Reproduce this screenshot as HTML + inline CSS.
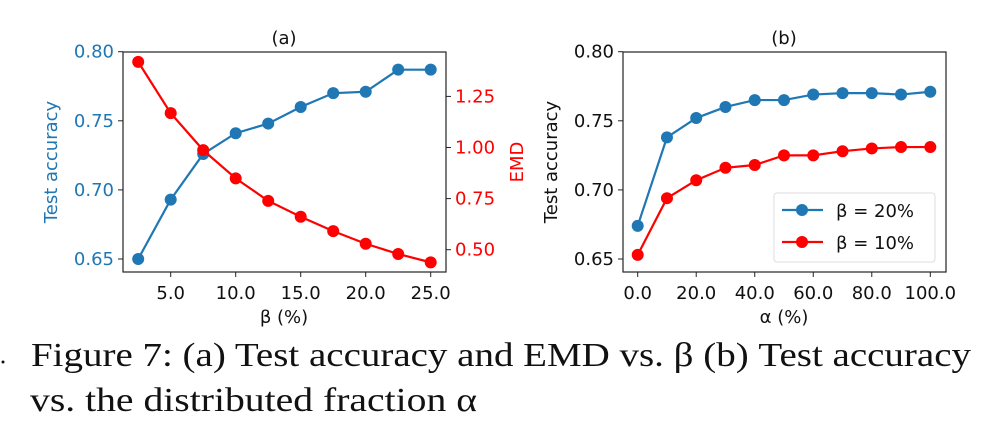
<!DOCTYPE html>
<html><head><meta charset="utf-8"><style>
html,body{margin:0;padding:0;background:#fff;width:992px;height:432px;overflow:hidden}
svg{display:block}
text{font-family:"DejaVu Sans","Liberation Sans",sans-serif}
</style></head><body>
<svg id="svg" width="992" height="432"></svg>
<script>
const betaX=[2.5,5,7.5,10,12.5,15,17.5,20,22.5,25];
const accA=[0.650,0.693,0.726,0.741,0.748,0.760,0.770,0.771,0.787,0.787];
const emdA=[1.419,1.168,0.987,0.849,0.739,0.661,0.591,0.529,0.479,0.438];
const alphaX=[0,10,20,30,40,50,60,70,80,90,100];
const acc20=[0.674,0.738,0.752,0.760,0.765,0.765,0.769,0.770,0.770,0.769,0.771];
const acc10=[0.653,0.694,0.707,0.716,0.718,0.725,0.725,0.728,0.730,0.731,0.731];
const accTicks=[0.65,0.70,0.75,0.80];
const emdTicks=[0.50,0.75,1.00,1.25];
const betaTicks=[5,10,15,20,25];
const alphaTicks=[0,20,40,60,80,100];
const NS="http://www.w3.org/2000/svg";
const svg=document.getElementById('svg');
function el(t,a,p){const e=document.createElementNS(NS,t);for(const k in a)e.setAttribute(k,a[k]);(p||svg).appendChild(e);return e;}
const BLUE="#1f77b4",RED="#ff0000";
const yAcc=v=>259-(v-0.65)/0.15*207.3;
const yEmd=v=>249.7-(v-0.5)/0.25*51.1;
const xB=v=>170.7+(v-5)*13;
const xA=v=>637.7+v*2.926;
function series(xs,ys,fx,fy,col,name){
  const g=el('g',{});
  
  
  el('polyline',{points:xs.map((x,i)=>fx(x)+','+fy(ys[i])).join(' '),fill:'none',stroke:col,'stroke-width':2.2},g);
  xs.forEach((x,i)=>{const c=el('circle',{cx:fx(x),cy:fy(ys[i]),r:6,fill:col},g);
    
    });
}
function frame(x0,x1,name){
  const r=el('rect',{x:x0,y:52,width:x1-x0,height:220,fill:'none',stroke:'#222','stroke-width':1.2});
  
  
}
function txt(x,y,s,a){const t=el('text',Object.assign({x:x,y:y},a||{}));t.textContent=s;return t;}
const FS=18;
// Panel a
frame(123,446,'plot-area-a');
accTicks.forEach(v=>{const y=yAcc(v);el('line',{x1:118,x2:123,y1:y,y2:y,stroke:'#222'});
  const t=txt(114,y+6,v.toFixed(2),{'text-anchor':'end','font-size':FS,fill:BLUE});
  });
emdTicks.forEach(v=>{const y=yEmd(v);el('line',{x1:446,x2:451,y1:y,y2:y,stroke:'#222'});
  const t=txt(455,y+6,v.toFixed(2),{'font-size':FS,fill:RED});
  });
betaTicks.forEach(v=>{const x=xB(v);el('line',{x1:x,x2:x,y1:272,y2:277,stroke:'#222'});
  const t=txt(x,299,v.toFixed(1),{'text-anchor':'middle','font-size':FS,fill:'#111'});
  });
series(betaX,accA,xB,yAcc,BLUE,'accuracy-line-a');
series(betaX,emdA,xB,yEmd,RED,'emd-line');
let t;
t=txt(284,44,'(a)',{'text-anchor':'middle','font-size':FS,fill:'#111'});
t=txt(284,323,'β (%)',{'text-anchor':'middle','font-size':FS,fill:'#111'});
t=txt(0,0,'Test accuracy',{'text-anchor':'middle','font-size':FS,fill:BLUE,transform:'translate(57,162) rotate(-90)'});
t=txt(0,0,'EMD',{'text-anchor':'middle','font-size':FS,fill:RED,transform:'translate(523,162) rotate(-90)'});
// Panel b
frame(623,946,'plot-area-b');
accTicks.forEach(v=>{const y=yAcc(v);el('line',{x1:618,x2:623,y1:y,y2:y,stroke:'#222'});
  const t=txt(614,y+6,v.toFixed(2),{'text-anchor':'end','font-size':FS,fill:'#111'});
  });
alphaTicks.forEach(v=>{const x=xA(v);el('line',{x1:x,x2:x,y1:272,y2:277,stroke:'#222'});
  const t=txt(x,299,v.toFixed(1),{'text-anchor':'middle','font-size':FS,fill:'#111'});
  });
series(alphaX,acc20,xA,yAcc,BLUE,'beta-20-line');
series(alphaX,acc10,xA,yAcc,RED,'beta-10-line');
t=txt(784,44,'(b)',{'text-anchor':'middle','font-size':FS,fill:'#111'});
t=txt(784,323,'α (%)',{'text-anchor':'middle','font-size':FS,fill:'#111'});
t=txt(0,0,'Test accuracy',{'text-anchor':'middle','font-size':FS,fill:'#111',transform:'translate(557,162) rotate(-90)'});
// legend
const lg=el('g',{});


el('rect',{x:774,y:193,width:161,height:69,rx:3,fill:'#fff',stroke:'#ddd'},lg);
[[BLUE,'β = 20%',210],[RED,'β = 10%',242]].forEach(([c,s,y])=>{
  el('line',{x1:782,x2:823,y1:y,y2:y,stroke:c,'stroke-width':2.2},lg);
  el('circle',{cx:802,cy:y,r:6,fill:c},lg);
  const tt=txt(836,y+7,s,{'font-size':FS,fill:'#111'});lg.appendChild(tt);
  
});
// caption
el('circle',{cx:3,cy:362,r:1.5,fill:'#111'});
const capStyle='font-family:"Liberation Serif",serif;font-size:34px;fill:#111';
t=txt(31,366,'Figure 7: (a) Test accuracy and EMD vs. β (b) Test accuracy',{style:capStyle,textLength:940,lengthAdjust:'spacingAndGlyphs'});
t=txt(30,411,'vs. the distributed fraction α',{style:capStyle,textLength:447,lengthAdjust:'spacingAndGlyphs'});
</script>
</body></html>
